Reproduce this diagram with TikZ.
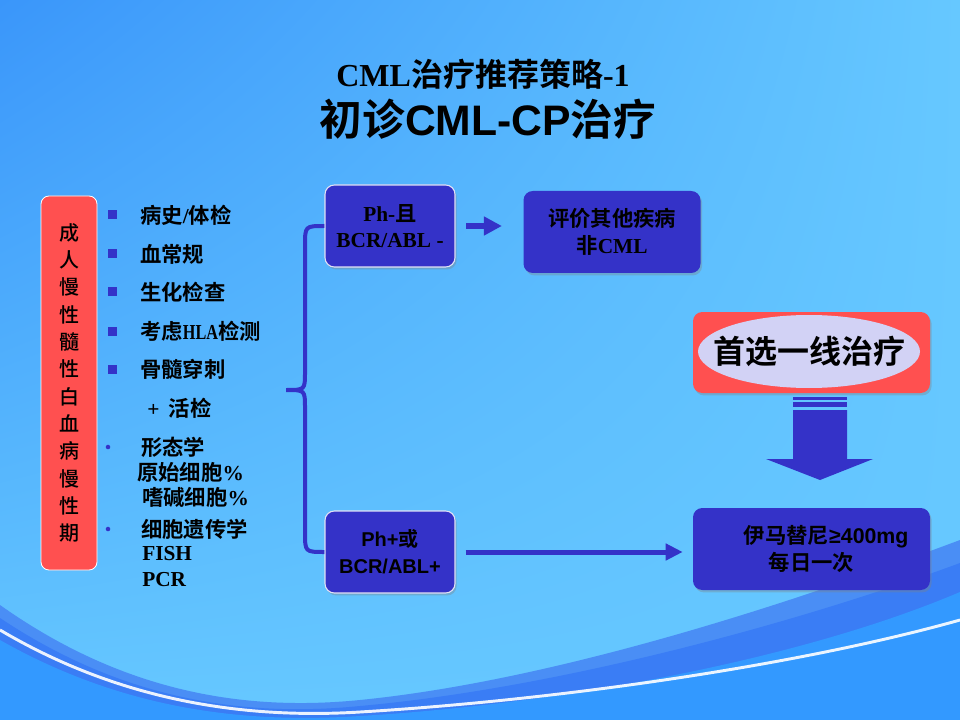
\documentclass[tikz,border=0pt]{standalone}
\usepackage{fontspec}
\usepackage{graphicx}
\setmainfont{Liberation Serif}
\setsansfont{Liberation Sans}
\newfontfamily\cjk{Noto Sans CJK SC}[BoldFont={Noto Sans CJK SC Bold}]
\newfontfamily\cjkmed{Noto Sans CJK SC Medium}
\newcommand{\zh}[1]{{\cjk #1}}
\usetikzlibrary{shapes,arrows.meta,positioning,shadows,shadings}

\definecolor{bgdark}{RGB}{58,150,250}
\definecolor{bglight}{RGB}{102,200,255}
\definecolor{boxblue}{RGB}{52,50,200}
\definecolor{boxred}{RGB}{255,80,80}
\definecolor{ellfill}{RGB}{210,210,245}
\definecolor{waveA}{RGB}{74,142,245}
\definecolor{waveB}{RGB}{58,125,245}
\definecolor{waveC}{RGB}{51,153,255}

\begin{document}
\begin{tikzpicture}[x=0.75pt,y=-0.75pt,
    bluebox/.style={rectangle, rounded corners=7pt, fill=boxblue, align=center, inner sep=0pt,
        minimum height=61.5pt, drop shadow={shadow xshift=1.2pt, shadow yshift=-1.8pt, opacity=0.35}},
    phbox/.style={bluebox, minimum width=97.5pt, draw={rgb,255:red,225;green,225;blue,245}, line width=0.8pt},
    redbar/.style={rectangle, rounded corners=6pt, fill=boxred, draw=white, line width=0.6pt, minimum width=42pt,
        minimum height=280.5pt, align=center, inner sep=0pt, font=\cjkmed\fontsize{15}{20.5}\selectfont},
    sqmark/.style={rectangle, fill=boxblue, minimum size=6.75pt, inner sep=0pt},
    dotmark/.style={circle, fill=boxblue, minimum size=3.4pt, inner sep=0pt},
    item/.style={anchor=west, inner sep=0pt, font=\bfseries\fontsize{16}{19}\selectfont},
    brace/.style={draw=boxblue, line width=3pt},
    fatarrow/.style={draw=boxblue, line width=5pt, -{Triangle[length=13.5pt,width=13.5pt]}},
    longarrow/.style={draw=boxblue, line width=3.75pt, -{Triangle[length=12.75pt,width=12pt]}}
  ]
  \useasboundingbox (0,0) rectangle (960,720);
  % background
  \shade[upper left=bgdark, upper right=bglight, lower left=bglight, lower right=bglight] (0,0) rectangle (960,720);
  \fill[waveA] (0,605) .. controls (120,690) and (240,712) .. (360,700) .. controls (560,680) and (800,600) .. (960,540) -- (960,720) -- (0,720) -- cycle;
  \fill[waveB] (0,618) .. controls (120,698) and (240,718) .. (360,706) .. controls (560,688) and (800,622) .. (960,563) -- (960,720) -- (0,720) -- cycle;
  \fill[waveC] (0,640) .. controls (120,708) and (240,724) .. (360,716) .. controls (560,704) and (800,660) .. (960,592) -- (960,720) -- (0,720) -- cycle;
  \draw[white, line width=2.2pt, opacity=0.9] (0,630) .. controls (110,695) and (230,720) .. (360,712) .. controls (560,700) and (800,665) .. (960,620);

  % titles
  \node (title) at (483,74) {\fontsize{24}{28}\selectfont\bfseries CML\zh{治疗推荐策略}-1};
  \node (subtitle) at (488,119) {\fontsize{32}{38}\selectfont\sffamily\bfseries\zh{初诊}CML-CP\zh{治疗}};

  % left column
  \node (adult) [redbar] at (69,383) {成\\人\\慢\\性\\髓\\性\\白\\血\\病\\慢\\性\\期};

  \node (m1) [sqmark] at (112,215) {};
  \node (m2) [sqmark] at (112,254) {};
  \node (m3) [sqmark] at (112,292) {};
  \node (m4) [sqmark] at (112,331) {};
  \node (m5) [sqmark] at (112,369) {};
  \node (d1) [dotmark] at (108,447) {};
  \node (d2) [dotmark] at (108,529) {};

  \node (i1) [item] at (140,215) {\zh{病史}/\zh{体检}};
  \node (i2) [item] at (140,254) {\zh{血常规}};
  \node (i3) [item] at (140,292) {\zh{生化检查}};
  \node (i4) [item] at (140,331) {\zh{考虑}\scalebox{0.76}[1]{HLA}\zh{检测}};
  \node (i5) [item] at (140,369) {\zh{骨髓穿刺}};
  \node (i6) [item] at (147,408) {+\hspace{7pt}\zh{活检}};
  \node (i7) [item] at (141,447) {\zh{形态学}};
  \node (i8) [item] at (137,472) {\zh{原始细胞}\%};
  \node (i9) [item] at (142,497) {\zh{嗜碱细胞}\%};
  \node (i10) [item] at (141,529) {\zh{细胞遗传学}};
  \node (i11) [item] at (142,554) {FISH};
  \node (i12) [item] at (142,580) {PCR};

  % boxes
  \node (phneg) [phbox, font=\bfseries\fontsize{16}{19}\selectfont] at (390,226) {Ph-\zh{且}\\BCR/ABL -};
  \node (phpos) [phbox, font=\sffamily\bfseries\fontsize{15}{20}\selectfont] at (390,552) {Ph+\zh{或}\\BCR/ABL+};
  \node (other) [bluebox, minimum width=132.75pt, font=\bfseries\fontsize{16}{20}\selectfont] at (612,232) {\zh{评价其他疾病}\\\zh{非}CML};
  \node (first) [rectangle, rounded corners=7pt, fill=boxred, minimum width=177.75pt, minimum height=60.75pt,
      drop shadow={shadow xshift=1.2pt, shadow yshift=-1.8pt, opacity=0.35}] at (811.5,352.5) {};
  \node (firstell) [ellipse, fill=ellfill, minimum width=166.5pt, minimum height=54.75pt, inner sep=0pt,
      font=\cjk\bfseries\fontsize{24}{28}\selectfont] at (809,351.5) {\makebox[0pt]{首选一线治疗}};
  \node (imat) [bluebox, minimum width=177.75pt, font=\sffamily\bfseries\fontsize{16}{20}\selectfont] at (811.5,549)
      {\hspace*{22pt}\zh{伊马替尼}≥400mg\\\zh{每日一次}};

  % connectors
  \draw[brace] (phneg.west) .. controls (305,226) .. (305,246) -- (305,372) .. controls (305,390) .. (286,390)
      .. controls (305,390) .. (305,408) -- (305,532) .. controls (305,552) .. (phpos.west);
  \draw[fatarrow, shorten <=8pt, shorten >=16pt] (phneg.east) -- (phneg.east -| other.west);
  \draw[longarrow, shorten <=7.5pt, shorten >=7.5pt] (phpos.east) -- (phpos.east -| imat.west);

  % block arrow
  \fill[boxblue] (793,397) rectangle (847,399.5);
  \fill[boxblue] (793,402) rectangle (847,407);
  \fill[boxblue] (793,410) -- (847,410) -- (847,459) -- (873,459) -- (820,480) -- (766,459) -- (793,459) -- cycle;
\end{tikzpicture}
\end{document}
